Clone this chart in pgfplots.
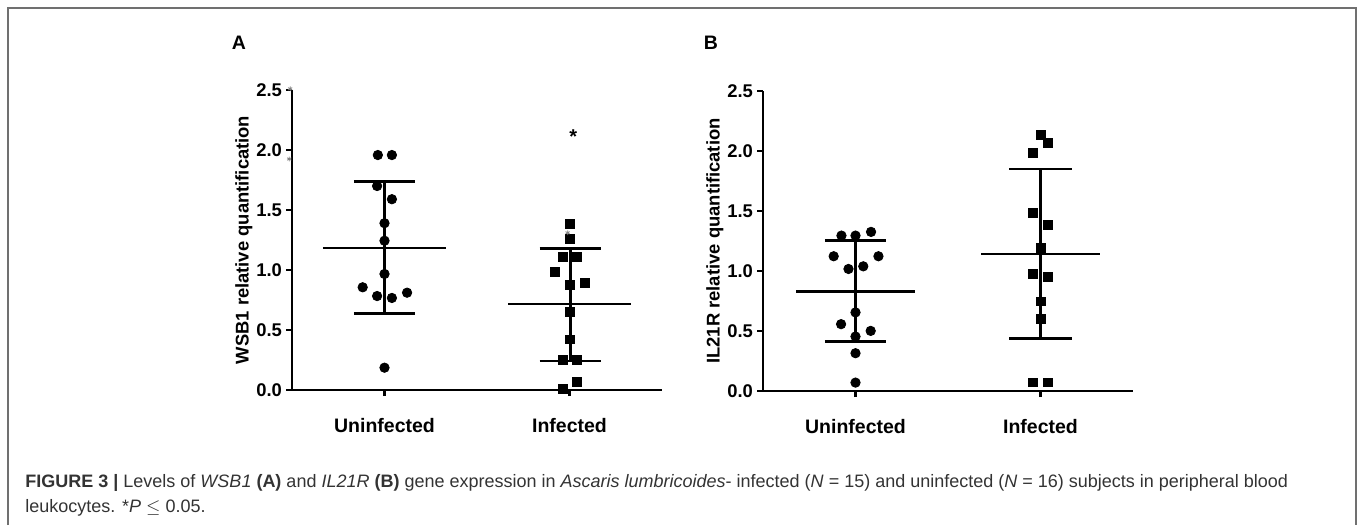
\documentclass[border=0pt]{standalone}
\usepackage{fontspec}
\setmainfont{Liberation Sans}
\usepackage{pgfplots}
\pgfplotsset{compat=1.18}
\definecolor{capgray}{HTML}{333333}
\definecolor{framegray}{HTML}{707070}

\pgfplotsset{panel/.style={
  scale only axis, width=185pt, height=150pt,
  xmin=0.5, xmax=2.5, ymin=0, ymax=2.5,
  axis x line=bottom, axis y line=left,
  axis line style={-, line width=1.4pt},
  xtick={1,2}, xticklabels={Uninfected,Infected},
  ytick={0,0.5,1,1.5,2,2.5},
  yticklabel={\pgfmathprintnumber[fixed,fixed zerofill,precision=1]{\tick}},
  /pgf/number format/assume math mode=true,
  tick align=outside, major tick length=3pt,
  tick style={line width=1.2pt, black},
  yticklabel style={font=\fontsize{9.2}{10}\selectfont\bfseries, xshift=1.5pt},
  xticklabel style={font=\fontsize{9.75}{11}\selectfont\bfseries, anchor=base, yshift=-18pt},
  every axis y label/.style={at={(axis description cs:-0.13,0.5)}, rotate=90, anchor=center,
    font=\fontsize{9.2}{10}\selectfont\bfseries},
  clip=false,
}}

\begin{document}
\begin{tikzpicture}
\useasboundingbox (0,0) rectangle (679pt,-262.5pt);
\draw[framegray, line width=0.75pt] (4pt,-262.5pt) -- (4pt,-4pt) -- (678pt,-4pt) -- (678pt,-262.5pt);
\node[font=\fontsize{9.75}{11}\selectfont\bfseries, anchor=base] at (119.5pt,-24.5pt) {A};
\node[font=\fontsize{9.75}{11}\selectfont\bfseries, anchor=base] at (355.5pt,-24.5pt) {B};

% panel A: WSB1
\begin{axis}[panel, at={(146pt,-195pt)}, anchor=south west, ylabel={WSB1 relative quantification}]
\addplot[only marks, mark=*, mark size=2.35pt, black] coordinates {
(0.964,1.958) (1.040,1.958) (0.960,1.700) (1.040,1.590) (1.000,1.390) (1.000,1.244)
(1.000,0.967) (0.882,0.856) (0.960,0.783) (1.040,0.767) (1.122,0.811) (1.000,0.186)};
\addplot[only marks, mark=square*, mark size=2.2pt, black] coordinates {
(2.004,1.381) (2.004,1.256) (1.964,1.106) (2.042,1.106) (1.922,0.986) (2.004,0.875)
(2.082,0.894) (2.004,0.653) (2.004,0.422) (1.964,0.250) (2.042,0.250) (1.964,0.006) (2.042,0.067)};
% mean and SD
\addplot[line width=1.1pt] coordinates {(0.667,1.186) (1.333,1.186)};
\addplot[line width=1.5pt] coordinates {(1,0.639) (1,1.736)};
\addplot[line width=1.4pt] coordinates {(0.835,1.736) (1.165,1.736)};
\addplot[line width=1.4pt] coordinates {(0.835,0.639) (1.165,0.639)};
\addplot[line width=1.1pt] coordinates {(1.669,0.714) (2.331,0.714)};
\addplot[line width=1.5pt] coordinates {(2.004,0.242) (2.004,1.180)};
\addplot[line width=1.4pt] coordinates {(1.839,1.180) (2.169,1.180)};
\addplot[line width=1.4pt] coordinates {(1.839,0.242) (2.169,0.242)};
\addplot[only marks, mark=asterisk, mark size=1.2pt, gray] coordinates {(0.49,2.51) (0.485,1.925) (1.99,1.31)};
\node[font=\fontsize{10}{11}\selectfont\bfseries] at (axis cs:2.02,2.11) {*};
\end{axis}

% panel B: IL21R
\begin{axis}[panel, at={(381.5pt,-195.5pt)}, anchor=south west, ylabel={IL21R relative quantification}]
\addplot[only marks, mark=*, mark size=2.35pt, black] coordinates {
(0.924,1.295) (1.000,1.295) (1.084,1.326) (0.882,1.123) (1.124,1.123) (0.962,1.017)
(1.042,1.039) (1.000,0.655) (0.922,0.557) (1.082,0.501) (1.000,0.454) (1.000,0.315) (1.000,0.070)};
\addplot[only marks, mark=square*, mark size=2.2pt, black] coordinates {
(2.002,2.131) (2.042,2.070) (1.960,1.981) (1.960,1.485) (2.042,1.382) (2.000,1.192)
(1.960,0.975) (2.042,0.950) (2.000,0.747) (2.000,0.602) (1.960,0.072) (2.042,0.072)};
\addplot[line width=1.1pt] coordinates {(0.680,0.830) (1.320,0.830)};
\addplot[line width=1.5pt] coordinates {(1,0.412) (1,1.251)};
\addplot[line width=1.4pt] coordinates {(0.834,1.251) (1.166,1.251)};
\addplot[line width=1.4pt] coordinates {(0.834,0.412) (1.166,0.412)};
\addplot[line width=1.1pt] coordinates {(1.680,1.142) (2.320,1.142)};
\addplot[line width=1.5pt] coordinates {(2,0.437) (2,1.850)};
\addplot[line width=1.4pt] coordinates {(1.830,1.850) (2.170,1.850)};
\addplot[line width=1.4pt] coordinates {(1.830,0.437) (2.170,0.437)};
\end{axis}

\node[anchor=base west, inner sep=0, text=capgray, font=\fontsize{9}{10}\selectfont] at (12.5pt,-243.8pt)
{\textbf{FIGURE 3 |} Levels of \textit{WSB1} \textbf{(A)} and \textit{IL21R} \textbf{(B)} gene expression in \textit{Ascaris lumbricoides}- infected (\textit{N} = 15) and uninfected (\textit{N} = 16) subjects in peripheral blood};
\node[anchor=base west, inner sep=0, text=capgray, font=\fontsize{9}{10}\selectfont] at (12.5pt,-256.2pt)
{leukocytes. *\textit{P} $\leq$ 0.05.};
\end{tikzpicture}
\end{document}
